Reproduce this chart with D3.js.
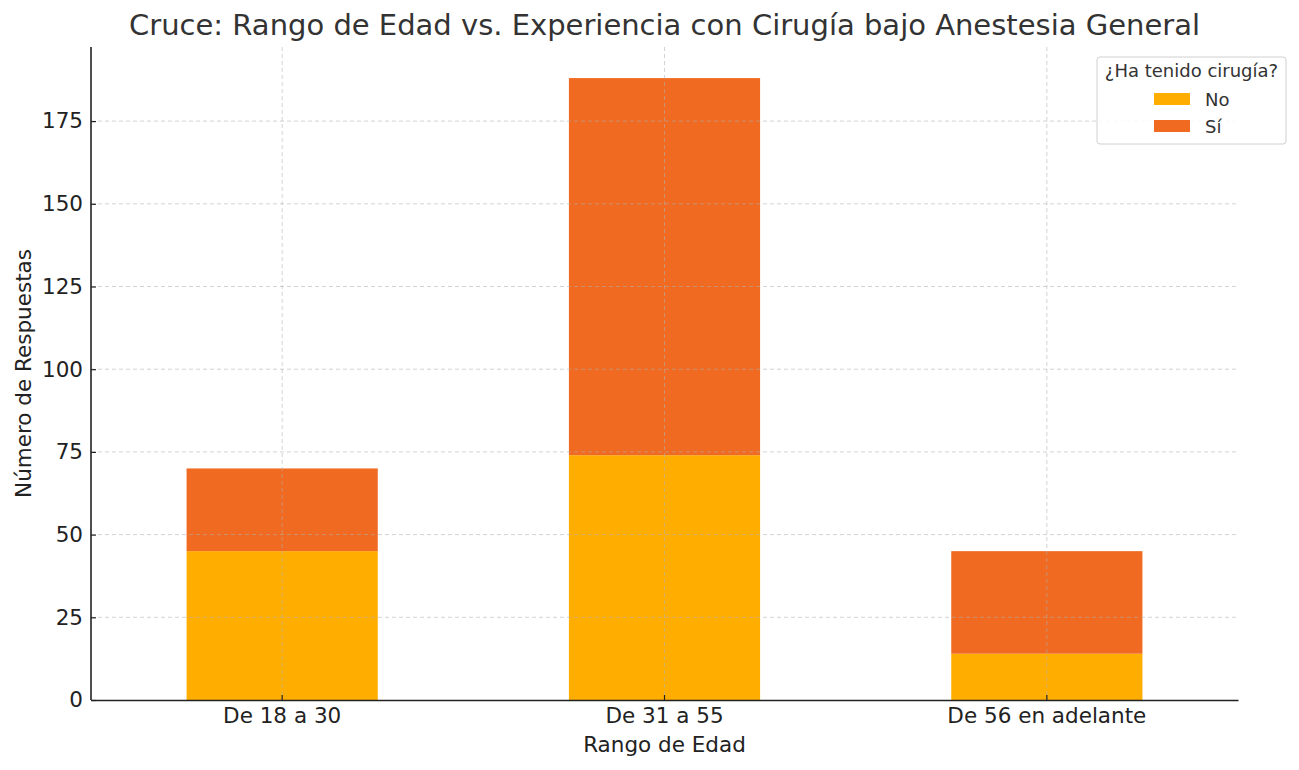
<!DOCTYPE html>
<html>
<head>
<meta charset="utf-8">
<script src="https://cdn.jsdelivr.net/npm/d3@7"></script>
<style>
  body { margin: 0; background: #fff; }
  svg { font-family: "DejaVu Sans", sans-serif; }
</style>
</head>
<body>
<div id="chart"></div>
<script>
// data
const categories = ["De 18 a 30", "De 31 a 55", "De 56 en adelante"];
const seriesNames = ["No", "Sí"];
const noValues = [45, 74, 14];
const siValues = [25, 114, 31];
const yTicks = [0, 25, 50, 75, 100, 125, 150, 175];
const colors = ["#FFAE00", "#F06A21"];

const W = 1299, H = 770;
const margin = { top: 47, right: 61, bottom: 70, left: 91 };
const width = W - margin.left - margin.right,
      height = H - margin.top - margin.bottom;

const rows = categories.map((c, i) => ({ cat: c, No: noValues[i], "Sí": siValues[i] }));
const stack = d3.stack().keys(seriesNames)(rows);
const yMax = d3.max(rows, d => d.No + d["Sí"]) * 1.05;

const x = d3.scaleBand().domain(categories).range([0, width]).paddingInner(0.5).paddingOuter(0.25);
const y = d3.scaleLinear().domain([0, yMax]).range([height, 0]);

const svg = d3.select("#chart").append("svg")
    .attr("width", W).attr("height", H);
const g = svg.append("g").attr("transform", `translate(${margin.left},${margin.top})`);

// bars
g.append("g").selectAll("g")
    .data(stack)
    .enter().append("g")
    .attr("fill", (d, i) => colors[i])
    .selectAll("rect")
    .data(d => d)
    .enter().append("rect")
    .attr("x", d => x(d.data.cat))
    .attr("width", x.bandwidth())
    .attr("y", d => y(d[1]))
    .attr("height", d => y(d[0]) - y(d[1]));

// grid on top of bars
const grid = g.append("g").attr("stroke", "#b0b0b0").attr("stroke-opacity", 0.7)
    .attr("stroke-dasharray", "4,3").attr("stroke-width", 0.8);
grid.selectAll("line.h").data(yTicks.slice(1)).enter().append("line")
    .attr("x1", 0).attr("x2", width)
    .attr("y1", d => y(d)).attr("y2", d => y(d));
grid.selectAll("line.v").data(categories).enter().append("line")
    .attr("x1", d => x(d) + x.bandwidth() / 2).attr("x2", d => x(d) + x.bandwidth() / 2)
    .attr("y1", 0).attr("y2", height);

// axes
const xAxis = g.append("g").attr("transform", `translate(0,${height})`)
    .call(d3.axisBottom(x).tickSizeInner(-5).tickSizeOuter(0).tickPadding(10));
const yAxis = g.append("g")
    .call(d3.axisLeft(y).tickValues(yTicks).tickSizeInner(-5).tickSizeOuter(0).tickPadding(10));
[xAxis, yAxis].forEach(a => {
    a.select(".domain").attr("stroke", "#222").attr("stroke-width", 1.6);
    a.selectAll(".tick line").attr("stroke", "#222").attr("stroke-width", 1.2);
    a.selectAll(".tick text").attr("fill", "#222").style("font-size", "21.5px")
        .style("font-family", "DejaVu Sans");
});
xAxis.selectAll(".tick text").attr("dy", "0.62em");
yAxis.selectAll(".tick text").attr("x", -8);
yAxis.select(".domain").attr("d", `M0,${height}V0`);

// labels
svg.append("text").attr("x", margin.left + width / 2).attr("y", 35)
    .attr("text-anchor", "middle").attr("fill", "#333").style("font-size", "29px")
    .text("Cruce: Rango de Edad vs. Experiencia con Cirugía bajo Anestesia General");
svg.append("text").attr("x", margin.left + width / 2).attr("y", 752)
    .attr("text-anchor", "middle").attr("fill", "#222").style("font-size", "21.5px")
    .text("Rango de Edad");
svg.append("text").attr("transform", `translate(31,${margin.top + height / 2}) rotate(-90)`)
    .attr("text-anchor", "middle").attr("fill", "#222").style("font-size", "21.5px")
    .text("Número de Respuestas");

// legend
const leg = svg.append("g").attr("transform", "translate(1097,57)");
leg.append("rect").attr("width", 189).attr("height", 87).attr("rx", 3)
    .attr("fill", "#fff").attr("fill-opacity", 0.85).attr("stroke", "#d0d0d0");
leg.append("text").attr("x", 94.5).attr("y", 20).attr("text-anchor", "middle")
    .attr("fill", "#333").style("font-size", "18px").text("¿Ha tenido cirugía?");
seriesNames.forEach((s, i) => {
    leg.append("rect").attr("x", 57).attr("y", 36 + i * 27).attr("width", 36).attr("height", 12)
        .attr("fill", colors[i]);
    leg.append("text").attr("x", 108).attr("y", 49 + i * 27).attr("fill", "#333")
        .style("font-size", "18px").text(s);
});
</script>
</body>
</html>
